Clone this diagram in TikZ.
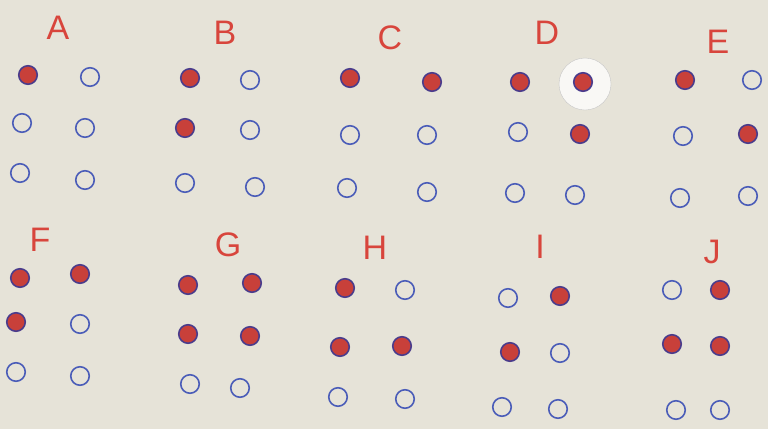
\documentclass[tikz,border=0pt]{standalone}
\usepackage{fontspec}
\setmainfont{Liberation Sans}
\begin{document}
\begin{tikzpicture}[x=1pt,y=-1pt,
  dotempty/.style={circle,draw=dotblue,line width=1.6pt,minimum size=18.5pt,inner sep=0pt},
  dotfull/.style={dotempty,draw=dotdark,fill=dotred},
  lbl/.style={text=lblred,font=\fontsize{34}{34}\selectfont,inner sep=0pt}]
\definecolor{bg}{HTML}{E6E3D8}
\definecolor{dotblue}{HTML}{4A5CB8}
\definecolor{dotdark}{HTML}{4A3C8C}
\definecolor{dotred}{HTML}{C8403A}
\definecolor{lblred}{HTML}{D8453C}
\fill[bg] (0,0) rectangle (768,429);
\useasboundingbox (0,0) rectangle (768,429);
% sticker around D dot
\node[circle,fill=white!75!bg,draw=gray!45,minimum size=52pt] (sticker) at (585,84) {};
% labels
\node[lbl] (lA) at (58,28) {A};
\node[lbl] (lB) at (225,33) {B};
\node[lbl] (lC) at (390,38) {C};
\node[lbl] (lD) at (547,33) {D};
\node[lbl] (lE) at (718,42) {E};
\node[lbl] (lF) at (40,240) {F};
\node[lbl] (lG) at (228,245) {G};
\node[lbl] (lH) at (375,248) {H};
\node[lbl] (lI) at (540,247) {I};
\node[lbl] (lJ) at (712,252) {J};
% A
\node[dotfull] (a1) at (28,75) {};
\node[dotempty] (a4) at (90,77) {};
\node[dotempty] (a2) at (22,123) {};
\node[dotempty] (a5) at (85,128) {};
\node[dotempty] (a3) at (20,173) {};
\node[dotempty] (a6) at (85,180) {};
% B
\node[dotfull] (b1) at (190,78) {};
\node[dotempty] (b4) at (250,80) {};
\node[dotfull] (b2) at (185,128) {};
\node[dotempty] (b5) at (250,130) {};
\node[dotempty] (b3) at (185,183) {};
\node[dotempty] (b6) at (255,187) {};
% C
\node[dotfull] (c1) at (350,78) {};
\node[dotfull] (c4) at (432,82) {};
\node[dotempty] (c2) at (350,135) {};
\node[dotempty] (c5) at (427,135) {};
\node[dotempty] (c3) at (347,188) {};
\node[dotempty] (c6) at (427,192) {};
% D
\node[dotfull] (d1) at (520,82) {};
\node[dotfull] (d4) at (583,82) {};
\node[dotempty] (d2) at (518,132) {};
\node[dotfull] (d5) at (580,134) {};
\node[dotempty] (d3) at (515,193) {};
\node[dotempty] (d6) at (575,195) {};
% E
\node[dotfull] (e1) at (685,80) {};
\node[dotempty] (e4) at (752,80) {};
\node[dotempty] (e2) at (683,136) {};
\node[dotfull] (e5) at (748,134) {};
\node[dotempty] (e3) at (680,198) {};
\node[dotempty] (e6) at (748,196) {};
% F
\node[dotfull] (f1) at (20,278) {};
\node[dotfull] (f4) at (80,274) {};
\node[dotfull] (f2) at (16,322) {};
\node[dotempty] (f5) at (80,324) {};
\node[dotempty] (f3) at (16,372) {};
\node[dotempty] (f6) at (80,376) {};
% G
\node[dotfull] (g1) at (188,285) {};
\node[dotfull] (g4) at (252,283) {};
\node[dotfull] (g2) at (188,334) {};
\node[dotfull] (g5) at (250,336) {};
\node[dotempty] (g3) at (190,384) {};
\node[dotempty] (g6) at (240,388) {};
% H
\node[dotfull] (h1) at (345,288) {};
\node[dotempty] (h4) at (405,290) {};
\node[dotfull] (h2) at (340,347) {};
\node[dotfull] (h5) at (402,346) {};
\node[dotempty] (h3) at (338,397) {};
\node[dotempty] (h6) at (405,399) {};
% I
\node[dotempty] (i1) at (508,298) {};
\node[dotfull] (i4) at (560,296) {};
\node[dotfull] (i2) at (510,352) {};
\node[dotempty] (i5) at (560,353) {};
\node[dotempty] (i3) at (502,407) {};
\node[dotempty] (i6) at (558,409) {};
% J
\node[dotempty] (j1) at (672,290) {};
\node[dotfull] (j4) at (720,290) {};
\node[dotfull] (j2) at (672,344) {};
\node[dotfull] (j5) at (720,346) {};
\node[dotempty] (j3) at (676,410) {};
\node[dotempty] (j6) at (720,410) {};
\end{tikzpicture}
\end{document}
